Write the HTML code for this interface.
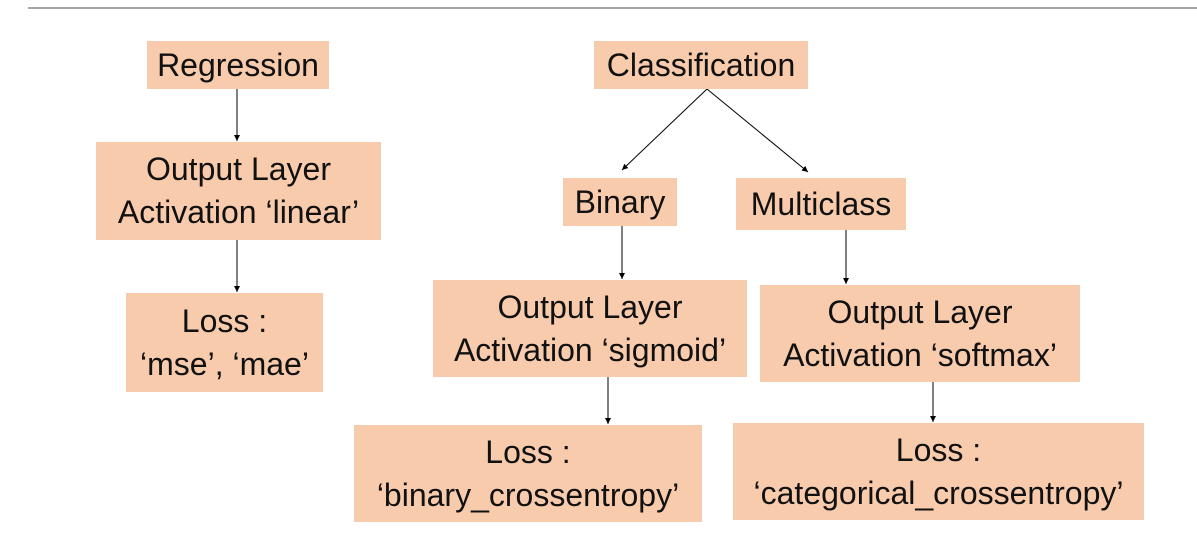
<!DOCTYPE html>
<html><head><meta charset="utf-8"><style>
body{margin:0;width:1197px;height:541px;background:#fff;position:relative;overflow:hidden;font-family:"Liberation Sans",sans-serif;}
.b{position:absolute;background:#f8cbad;display:flex;align-items:center;justify-content:center;text-align:center;font-size:32px;line-height:43px;color:#111;white-space:nowrap;}
svg{position:absolute;left:0;top:0}
</style></head><body>
<svg width="1197" height="541">
<defs><marker id="a" markerWidth="8" markerHeight="8" refX="6" refY="3" orient="auto" markerUnits="userSpaceOnUse"><path d="M0,0 L6,3 L0,6z" fill="#000"/></marker></defs>
<line x1="28" y1="8" x2="1197" y2="8" stroke="#888" stroke-width="1.5"/>
<g stroke="#000" stroke-width="1" marker-end="url(#a)">
<line x1="237" y1="89" x2="237" y2="141"/>
<line x1="237" y1="240" x2="237" y2="292"/>
<line x1="707" y1="89" x2="622" y2="170"/>
<line x1="707" y1="89" x2="808" y2="172"/>
<line x1="622" y1="226" x2="622" y2="279"/>
<line x1="846" y1="230" x2="846" y2="284"/>
<line x1="608" y1="377" x2="608" y2="424"/>
<line x1="933" y1="382" x2="933" y2="422"/>
</g></svg>
<div class="b" style="left:147px;top:41px;width:182px;height:48px">Regression</div>
<div class="b" style="left:96px;top:142px;width:285px;height:98px">Output Layer<br>Activation ‘linear’</div>
<div class="b" style="left:126px;top:293px;width:197px;height:99px">Loss :<br>‘mse’, ‘mae’</div>
<div class="b" style="left:594px;top:41px;width:214px;height:48px">Classification</div>
<div class="b" style="left:563px;top:178px;width:114px;height:48px">Binary</div>
<div class="b" style="left:736px;top:178px;width:170px;height:52px">Multiclass</div>
<div class="b" style="left:433px;top:280px;width:314px;height:97px">Output Layer<br>Activation ‘sigmoid’</div>
<div class="b" style="left:760px;top:285px;width:320px;height:97px">Output Layer<br>Activation ‘softmax’</div>
<div class="b" style="left:354px;top:425px;width:348px;height:97px">Loss :<br>‘binary_crossentropy’</div>
<div class="b" style="left:733px;top:423px;width:411px;height:97px">Loss :<br>‘categorical_crossentropy’</div>
</body></html>
